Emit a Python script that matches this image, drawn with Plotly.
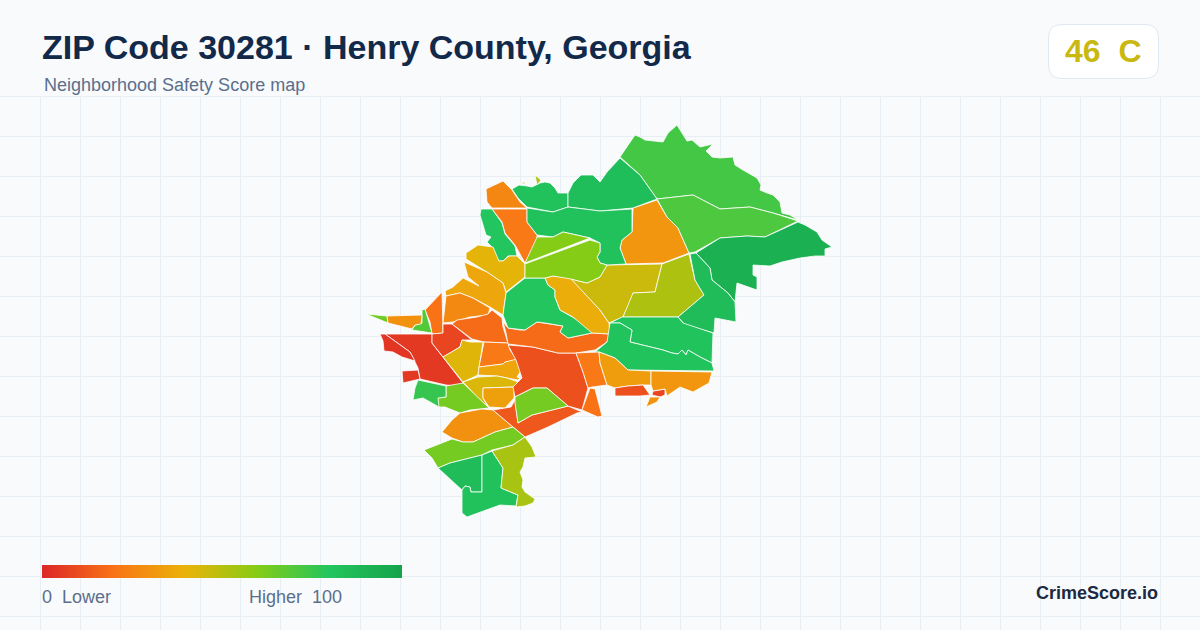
"""
ZIP Code 30281, Henry County: Neighborhood Safety Score map
"""

import plotly.graph_objects as go
from plotly.colors import sample_colorscale

# ============================================================
# Data: neighborhood scores and their outlines
# ============================================================

score_scale = [
    [0.0, "#dc2626"],
    [0.2, "#f97316"],
    [0.4, "#eab308"],
    [0.6, "#84cc16"],
    [0.8, "#22c55e"],
    [1.0, "#16a34a"],
]

region_scores = [
    26, 22, 80, 41, 36, 27, 20, 70, 64, 29, 5, 4, 5, 8, 18, 42, 22, 36, 43, 34,
    63, 76, 29, 13, 11, 18, 80, 38, 46, 52, 31, 73, 71, 92, 85, 81, 81, 22, 33,
    11, 8, 30, 31, 20, 82, 84, 82, 60, 60, 63, 85, 82, 53, 52, 52, 63,
]

region_outlines = [
    [(486, 189), (503, 181), (512, 190), (520, 202), (527, 208), (492, 208), (487, 202)],
    [(492, 209), (527, 209), (527, 222), (537, 235), (537, 242), (525, 263), (515, 245), (505, 233), (502, 222)],
    [(481, 209), (492, 209), (502, 223), (505, 234), (515, 246), (517, 256), (508, 256), (503, 261), (498, 261), (493, 248), (487, 242), (491, 237), (486, 235), (483, 226), (480, 215)],
    [(466, 253), (478, 245), (493, 247), (496, 255), (499, 261), (503, 261), (509, 256), (517, 256), (525, 264), (525, 277), (506, 292), (503, 283), (487, 272), (466, 259)],
    [(464, 262), (487, 272), (503, 283), (506, 293), (503, 315), (490, 307), (473, 298), (460, 293), (446, 296), (445, 291), (453, 287), (463, 278), (479, 286), (468, 277)],
    [(446, 296), (460, 293), (473, 298), (490, 308), (488, 315), (470, 317), (453, 322), (443, 323)],
    [(425, 310), (442, 292), (443, 333), (432, 334), (430, 322)],
    [(422, 310), (425, 309), (432, 333), (412, 330), (415, 325), (422, 323)],
    [(366, 314), (387, 316), (388, 323)],
    [(387, 316), (422, 315), (421, 324), (415, 325), (412, 329), (388, 323)],
    [(385, 334), (432, 334), (432, 343), (443, 357), (463, 383), (457, 386), (446, 385), (420, 379), (418, 368), (410, 352)],
    [(380, 334), (385, 334), (410, 352), (415, 361), (402, 357), (393, 352), (384, 351), (383, 341)],
    [(402, 371), (418, 370), (420, 379), (403, 383)],
    [(443, 324), (452, 324), (472, 340), (462, 340), (460, 347), (443, 357), (432, 343), (432, 334), (443, 333)],
    [(452, 324), (457, 320), (477, 317), (488, 314), (492, 310), (502, 318), (503, 327), (508, 343), (484, 342), (472, 339)],
    [(443, 357), (460, 347), (462, 340), (470, 342), (483, 342), (478, 375), (463, 382)],
    [(484, 342), (508, 343), (510, 350), (517, 360), (505, 362), (503, 364), (479, 367), (482, 353)],
    [(479, 367), (503, 364), (505, 362), (517, 359), (522, 369), (517, 377), (520, 378), (518, 380), (507, 378), (497, 376), (478, 375)],
    [(463, 382), (478, 377), (497, 376), (507, 378), (518, 382), (514, 387), (483, 388), (483, 398), (488, 407), (477, 397)],
    [(483, 388), (514, 387), (514, 398), (505, 408), (489, 407), (483, 398)],
    [(446, 386), (463, 383), (489, 408), (470, 410), (460, 413), (445, 407), (437, 407), (437, 398), (446, 397)],
    [(418, 380), (446, 386), (446, 397), (438, 398), (439, 407), (432, 403), (423, 398), (413, 400), (415, 388)],
    [(442, 432), (452, 420), (460, 413), (482, 409), (493, 410), (507, 422), (513, 427), (495, 432), (473, 442), (463, 442), (452, 438)],
    [(493, 410), (511, 407), (515, 400), (518, 423), (532, 415), (568, 406), (582, 412), (577, 413), (548, 427), (525, 437), (513, 427)],
    [(508, 345), (533, 347), (558, 353), (576, 353), (583, 372), (588, 388), (582, 410), (568, 406), (547, 388), (533, 388), (515, 397), (513, 387), (522, 378), (516, 360)],
    [(503, 322), (508, 328), (520, 330), (525, 330), (537, 322), (545, 323), (563, 326), (560, 332), (568, 338), (592, 333), (610, 334), (607, 342), (595, 350), (576, 353), (558, 353), (533, 347), (508, 344), (506, 333)],
    [(506, 293), (525, 278), (545, 278), (548, 285), (555, 290), (555, 297), (560, 310), (573, 317), (590, 327), (592, 333), (568, 338), (560, 332), (563, 326), (545, 323), (537, 322), (525, 330), (508, 328), (503, 315)],
    [(545, 278), (553, 276), (571, 278), (588, 297), (600, 310), (609, 323), (610, 334), (592, 333), (573, 317), (560, 310), (555, 297), (555, 290), (548, 285)],
    [(571, 279), (587, 283), (600, 277), (607, 265), (662, 264), (659, 277), (655, 292), (633, 293), (631, 300), (623, 317), (609, 323), (600, 310), (588, 297)],
    [(662, 264), (689, 254), (695, 280), (704, 295), (678, 317), (633, 317), (623, 317), (633, 293), (655, 292)],
    [(633, 208), (657, 200), (667, 217), (678, 228), (689, 253), (663, 263), (626, 264), (620, 248), (622, 240), (632, 232)],
    [(620, 157), (625, 150), (635, 135), (640, 137), (645, 140), (663, 142), (668, 133), (677, 125), (682, 133), (687, 141), (692, 140), (700, 147), (713, 144), (706, 151), (712, 157), (720, 158), (733, 157), (735, 165), (743, 170), (750, 174), (757, 178), (761, 185), (760, 190), (767, 193), (773, 195), (780, 202), (782, 213), (790, 215), (798, 220), (773, 213), (750, 207), (720, 209), (693, 195), (657, 199), (640, 175)],
    [(657, 199), (693, 195), (720, 209), (750, 207), (773, 213), (798, 221), (765, 237), (747, 236), (720, 238), (695, 252), (689, 253), (678, 228), (667, 217)],
    [(798, 222), (805, 225), (817, 232), (822, 240), (832, 247), (825, 249), (825, 256), (815, 256), (800, 258), (782, 262), (770, 266), (753, 265), (753, 275), (757, 277), (757, 290), (737, 283), (735, 302), (728, 293), (712, 280), (710, 268), (696, 253), (720, 238), (747, 236), (765, 237)],
    [(690, 254), (696, 253), (710, 268), (712, 280), (728, 293), (735, 302), (736, 322), (715, 318), (714, 333), (685, 325), (678, 317), (704, 295), (695, 280)],
    [(610, 323), (622, 317), (633, 317), (678, 317), (683, 323), (713, 333), (712, 363), (700, 357), (688, 350), (686, 355), (682, 350), (678, 354), (672, 353), (663, 350), (630, 342), (632, 330), (620, 323)],
    [(610, 323), (620, 323), (632, 330), (630, 342), (663, 350), (672, 353), (678, 354), (682, 350), (686, 355), (688, 350), (700, 357), (712, 363), (714, 371), (628, 370), (615, 358), (599, 352), (595, 352), (607, 342)],
    [(576, 353), (599, 352), (600, 363), (607, 385), (592, 387), (588, 388), (583, 372)],
    [(599, 352), (615, 358), (628, 370), (651, 371), (651, 385), (642, 385), (628, 386), (615, 388), (607, 385), (600, 363)],
    [(615, 388), (628, 386), (643, 385), (650, 395), (640, 396), (615, 396)],
    [(653, 391), (665, 389), (665, 395), (660, 397), (652, 395)],
    [(650, 397), (660, 397), (657, 402), (646, 407)],
    [(651, 371), (712, 372), (709, 383), (693, 392), (680, 387), (667, 396), (665, 389), (653, 391), (651, 385)],
    [(590, 388), (595, 389), (602, 416), (598, 417), (582, 410)],
    [(512, 189), (519, 185), (527, 186), (532, 187), (540, 183), (545, 182), (550, 183), (555, 188), (558, 193), (568, 193), (568, 207), (553, 212), (527, 207), (518, 198)],
    [(568, 193), (573, 183), (581, 175), (593, 175), (600, 182), (607, 172), (620, 158), (640, 175), (657, 199), (633, 208), (600, 211), (568, 207)],
    [(527, 208), (553, 212), (568, 207), (600, 211), (632, 209), (632, 232), (622, 240), (620, 248), (626, 264), (607, 265), (600, 263), (597, 257), (600, 252), (600, 243), (590, 238), (563, 232), (553, 237), (537, 235), (527, 222)],
    [(525, 263), (537, 237), (553, 237), (563, 232), (590, 238)],
    [(525, 264), (590, 240), (600, 243), (600, 252), (597, 257), (600, 263), (607, 265), (600, 277), (587, 283), (571, 279), (553, 276), (545, 278), (525, 278)],
    [(424, 450), (452, 439), (463, 442), (473, 442), (495, 432), (513, 427), (525, 437), (513, 445), (492, 450), (482, 455), (450, 463), (438, 468), (432, 458)],
    [(438, 468), (450, 463), (482, 455), (482, 492), (471, 492), (470, 487), (465, 486), (462, 490)],
    [(482, 455), (492, 451), (503, 468), (501, 488), (518, 495), (516, 506), (500, 505), (467, 517), (462, 513), (462, 490), (465, 486), (470, 487), (471, 492), (482, 492)],
    [(492, 451), (513, 445), (525, 437), (532, 447), (536, 457), (525, 458), (523, 467), (520, 472), (523, 480), (522, 487), (525, 492), (535, 499), (533, 503), (525, 506), (516, 507), (518, 495), (501, 488), (503, 468)],
    [(535, 175), (537, 185), (541, 180)],
    [(519, 183), (525, 182), (525, 184)],
    [(515, 397), (533, 388), (547, 388), (568, 406), (532, 415), (518, 423), (515, 403)],
]

legend_limits = [0, 100]

# ============================================================
# Map
# ============================================================

fig = go.Figure()

for score, outline in zip(region_scores, region_outlines):
    xs = [p[0] for p in outline] + [outline[0][0]]
    ys = [p[1] for p in outline] + [outline[0][1]]
    color = sample_colorscale(score_scale, score / 100)[0]
    fig.add_trace(
        go.Scatter(
            x=xs,
            y=ys,
            mode="lines",
            fill="toself",
            fillcolor=color,
            line=dict(color="#ffffff", width=0.8),
            hoverinfo="text",
            text=f"Score {score}",
            showlegend=False,
        )
    )

# Off-canvas trace, only here to carry the colour bar
fig.add_trace(
    go.Scatter(
        x=[-50, -50],
        y=[-50, -50],
        mode="markers",
        marker=dict(color=legend_limits, coloraxis="coloraxis"),
        showlegend=False,
        hoverinfo="skip",
    )
)

# ============================================================
# Text
# ============================================================

labels = [
    (42, 47, "ZIP Code 30281 · Henry County, Georgia", 34, "#12294a", "bold", "left"),
    (44, 85, "Neighborhood Safety Score map", 18, "#5b6f8c", "normal", "left"),
    (1103, 51, "46\u00a0\u00a0C", 32, "#c9b80f", "bold", "center"),
    (42, 597, "0\u00a0\u00a0Lower", 18, "#5b6f8c", "normal", "left"),
    (249, 597, "Higher\u00a0\u00a0100", 18, "#5b6f8c", "normal", "left"),
    (1158, 593, "CrimeScore.io", 18, "#1b2a41", "bold", "right"),
]

# Annotations carry 2px of padding, shift it away
anchor_shift = {"left": -2, "center": 0, "right": 2}

for x, y, text, size, color, weight, anchor in labels:
    fig.add_annotation(
        x=x,
        y=y,
        text=text,
        showarrow=False,
        xanchor=anchor,
        yanchor="middle",
        xshift=anchor_shift[anchor],
        font=dict(family="Liberation Sans", size=size, color=color, weight=weight),
    )

# Header band hides the grid, badge sits on top of it
fig.add_shape(
    type="rect",
    x0=0, x1=1200, y0=0, y1=96,
    fillcolor="#f8fafc",
    line_width=0,
    layer="between",
)

fig.add_shape(
    type="path",
    path=(
        "M 1062 24.5 L 1145 24.5 Q 1158.5 24.5 1158.5 38 L 1158.5 65 "
        "Q 1158.5 78.5 1145 78.5 L 1062 78.5 Q 1048.5 78.5 1048.5 65 "
        "L 1048.5 38 Q 1048.5 24.5 1062 24.5 Z"
    ),
    fillcolor="#ffffff",
    line=dict(color="#e2e8f0", width=1),
    layer="between",
)

# ============================================================
# Layout
# ============================================================

fig.update_layout(
    width=1200,
    height=630,
    margin=dict(l=0, r=0, t=0, b=0, autoexpand=False),
    paper_bgcolor="#f8fafc",
    plot_bgcolor="#f8fafc",
    xaxis=dict(
        range=[0, 1200],
        tick0=0.5,
        dtick=40,
        showgrid=True,
        gridcolor="#e8eff4",
        gridwidth=1,
        zeroline=False,
        showticklabels=False,
        ticks="",
        fixedrange=True,
    ),
    yaxis=dict(
        range=[630, 0],
        tick0=16.5,
        dtick=40,
        showgrid=True,
        gridcolor="#e8eff4",
        gridwidth=1,
        zeroline=False,
        showticklabels=False,
        ticks="",
        fixedrange=True,
    ),
    coloraxis=dict(
        colorscale=score_scale,
        cmin=0,
        cmax=100,
        colorbar=dict(
            orientation="h",
            x=42 / 1200,
            xanchor="left",
            y=(630 - 578) / 630,
            yanchor="bottom",
            lenmode="pixels",
            len=360,
            thicknessmode="pixels",
            thickness=13,
            outlinewidth=0,
            borderwidth=0,
            xpad=0,
            ypad=0,
            showticklabels=False,
            ticks="",
        ),
    ),
)

# Page margin would push the figure 8px off the window corner
fig.write_html(
    "out.html",
    config=dict(displayModeBar=False),
    post_script="document.body.style.margin = '0';",
)
